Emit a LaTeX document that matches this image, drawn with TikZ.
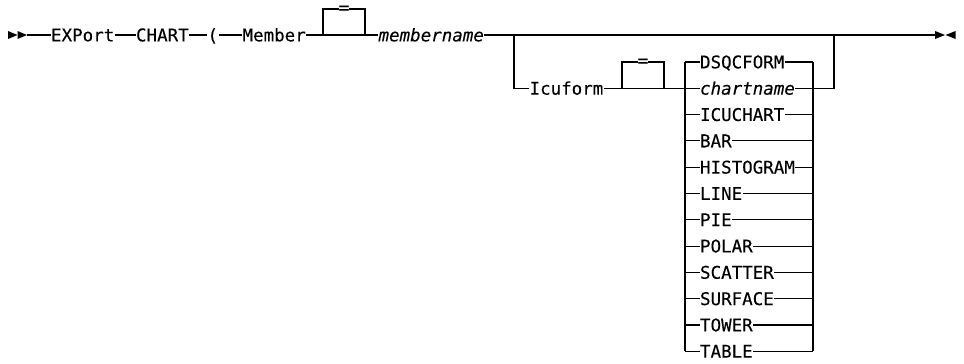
\documentclass[tikz,border=0pt]{standalone}
\usepackage{fontspec}
\newfontfamily\synfont[FakeBold=0.2]{DejaVu Sans Mono}
\begin{document}
\begin{tikzpicture}[x=1pt,y=-1pt,line width=1.1pt,
  kw/.style={inner sep=0pt,text height=12.7pt,text depth=0pt,anchor=west,
    font=\synfont\fontsize{17.5}{20}\selectfont},
  var/.style={kw,font=\synfont\itshape\fontsize{17.5}{20}\selectfont},
  eq/.style={inner sep=0pt,anchor=base,fill=white,font=\synfont\fontsize{17.5}{20}\selectfont}]
\useasboundingbox (0,0) rectangle (964,364);
% main line
\coordinate (s) at (27,35);
\node[kw] (exp) at (50.5,35) {EXPort};
\node[kw] (chart) at (135.5,35) {CHART};
\node[kw] (par) at (207,35) {(};
\node[kw] (mem) at (242,35) {Member};
\coordinate (b1l) at (323,35);
\coordinate (b1r) at (365,35);
\node[var] (mname) at (378,35) {membername};
\coordinate (split) at (514,35);
\coordinate (join) at (834,35);
\coordinate (e) at (935,35);
% start / end markers
\fill (8,31) -- (8,39) -- (17.5,35) -- cycle;
\fill (17.5,31) -- (17.5,39) -- (27,35) -- cycle;
\fill (935,31) -- (935,39) -- (945,35) -- cycle;
\fill (955.5,31) -- (955.5,39) -- (945.5,35) -- cycle;
\draw (s) -- (exp.west);
\draw (exp.east) -- (chart.west);
\draw (chart.east) -- (par.west);
\draw (par.east) -- (mem.west);
\draw (mem.east) -- (b1l) -- (b1r) -- (mname.west);
\draw (b1l) -- (323,9) -- (365,9) -- (b1r);
\node[eq] (eq1) at (344,13.6) {=};
\draw (mname.east) -- (e);
% Icuform branch
\node[kw] (icu) at (529,88.3) {Icuform};
\coordinate (b2l) at (622,88.3);
\coordinate (b2r) at (664,88.3);
\draw (split) |- (icu.west);
\draw (icu.east) -- (b2l) -- (b2r) -- (685,88.3);
\draw (b2l) -- (622,62) -- (664,62) -- (b2r);
\node[eq] (eq2) at (643,66.6) {=};
% choice stack
\foreach \s/\t [count=\i from 0] in {kw/DSQCFORM,var/chartname,kw/ICUCHART,kw/BAR,kw/HISTOGRAM,kw/LINE,kw/PIE,kw/POLAR,kw/SCATTER,kw/SURFACE,kw/TOWER,kw/TABLE}{
  \pgfmathsetmacro\yy{62+26.3*\i}
  \coordinate (L\i) at (685,\yy);
  \coordinate (R\i) at (813,\yy);
  \node[\s] (o\i) at (699.5,\yy) {\t};
  \draw (L\i) -- (o\i.west);
  \draw (o\i.east) -- (R\i);
}
\draw (L0) -- (L11);
\draw (R0) -- (R11);
\draw (R1) -- (834,88.3) -- (join);
\end{tikzpicture}
\end{document}
